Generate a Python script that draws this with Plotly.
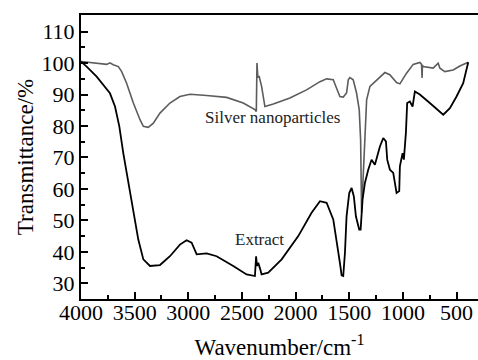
import plotly.graph_objects as go

# Silver nanoparticles spectrum (wavenumber cm-1, transmittance %)
silver_wn = [4000, 3850, 3760, 3730, 3700, 3652, 3621, 3575, 3512, 3450, 3419, 3373, 3326, 3264,
             3171, 3078, 2984, 2829, 2643, 2488, 2379, 2366, 2360, 2352, 2339, 2317, 2286, 2208,
             2053, 1898, 1773, 1711, 1649, 1618, 1587, 1556, 1525, 1509, 1494, 1463, 1432, 1407,
             1394, 1385, 1375, 1354, 1338, 1307, 1245, 1168, 1122, 1059, 1028, 966, 904, 842,
             826, 821, 818, 811, 718, 671, 655, 609, 531, 469, 391]
silver_t = [100.5, 100.0, 99.6, 100.1, 99.5, 98.9, 97.3, 93.6, 87.3, 82.0, 79.9, 79.6, 80.9, 84.1,
            87.3, 89.4, 90.1, 89.7, 89.1, 87.3, 85.2, 84.6, 100.0, 95.5, 95.7, 92.6, 86.2, 87.0,
            88.9, 91.5, 94.1, 95.0, 94.7, 92.0, 89.4, 89.2, 90.5, 94.7, 95.4, 94.7, 90.5, 85.2,
            75.6, 52.5, 60.0, 77.8, 88.3, 92.6, 94.7, 97.0, 96.3, 93.8, 93.4, 96.8, 99.6, 100.2,
            99.6, 95.3, 99.4, 98.9, 98.4, 100.0, 98.4, 97.3, 97.8, 99.1, 100.3]

# Plant extract spectrum
extract_wn = [4000, 3947, 3854, 3761, 3730, 3683, 3643, 3606, 3559, 3512, 3466, 3419, 3357, 3264,
              3171, 3078, 3016, 2969, 2922, 2829, 2736, 2581, 2457, 2379, 2368, 2360, 2348, 2330,
              2317, 2255, 2130, 1975, 1851, 1773, 1711, 1649, 1618, 1587, 1571, 1556, 1540, 1525,
              1500, 1478, 1457, 1438, 1407, 1394, 1376, 1354, 1323, 1292, 1261, 1214, 1183, 1158,
              1146, 1121, 1090, 1059, 1034, 1028, 1003, 991, 972, 960, 935, 910, 888, 842, 749,
              655, 624, 562, 500, 438, 391]
extract_t = [100.5, 98.9, 95.7, 91.5, 90.4, 86.2, 79.9, 71.4, 61.9, 52.4, 43.9, 37.6, 35.5, 35.8,
             38.6, 42.3, 43.7, 42.9, 39.2, 39.5, 38.6, 35.5, 32.8, 32.3, 38.6, 35.5, 36.5, 34.5,
             32.8, 33.4, 37.6, 45.0, 52.4, 56.1, 55.6, 50.3, 43.9, 36.5, 32.5, 32.3, 39.7, 51.3,
             58.7, 60.3, 57.6, 51.3, 47.1, 47.1, 56.6, 61.9, 66.1, 69.3, 67.7, 73.5, 76.2, 75.1,
             69.3, 66.1, 65.1, 58.7, 59.3, 67.2, 71.4, 69.3, 77.8, 87.3, 87.8, 86.2, 91.0, 90.0,
             87.3, 84.6, 83.6, 85.7, 89.4, 93.6, 100.3]

y_ticks = [30, 40, 50, 60, 70, 80, 90, 100, 110]
x_ticks = [4000, 3500, 3000, 2500, 2000, 1500, 1000, 500]

font_family = "Times New Roman, Liberation Serif, serif"

fig = go.Figure()
fig.add_trace(go.Scatter(x=silver_wn, y=silver_t, mode="lines",
                         line=dict(color="#5c5c5c", width=1.6), name="Silver nanoparticles"))
fig.add_trace(go.Scatter(x=extract_wn, y=extract_t, mode="lines",
                         line=dict(color="#000000", width=1.8), name="Extract"))

fig.add_annotation(x=2211, y=82.6, xref="x", yref="y", text="Silver nanoparticles",
                   showarrow=False, font=dict(family=font_family, size=17, color="#222"))
fig.add_annotation(x=2332, y=44.0, xref="x", yref="y", text="Extract",
                   showarrow=False, font=dict(family=font_family, size=17, color="#222"))

fig.update_layout(
    width=478, height=360,
    margin=dict(l=81, r=0, t=15, b=61),
    paper_bgcolor="white", plot_bgcolor="white",
    showlegend=False,
    font=dict(family=font_family, size=21, color="black"),
    xaxis=dict(range=[4000, 300], tickvals=x_ticks, ticktext=[str(v) for v in x_ticks],
               ticks="inside", ticklen=7, tickwidth=1.5, tickcolor="black",
               ticklabelstandoff=-7,
               showline=True, linecolor="black", linewidth=2, mirror=True,
               showgrid=False, zeroline=False,
               minor=dict(dtick=250, tick0=0, ticks="inside", ticklen=4, tickwidth=1.5, tickcolor="black"),
               tickfont=dict(family=font_family, size=22),
               title=dict(text="Wavenumber/cm<sup>-1</sup>", font=dict(family=font_family, size=23), standoff=15)),
    yaxis=dict(range=[25, 115.3], tickvals=y_ticks, ticktext=[str(v) for v in y_ticks],
               ticks="inside", ticklen=7, tickwidth=1.5, tickcolor="black",
               showline=True, linecolor="black", linewidth=2, mirror=False,
               showgrid=False, zeroline=False,
               minor=dict(dtick=5, tick0=0, ticks="inside", ticklen=4, tickwidth=1.5, tickcolor="black"),
               tickfont=dict(family=font_family, size=22),
               title=dict(text="Transmittance/%", font=dict(family=font_family, size=23), standoff=2)),
)

fig.write_html("out.html")
